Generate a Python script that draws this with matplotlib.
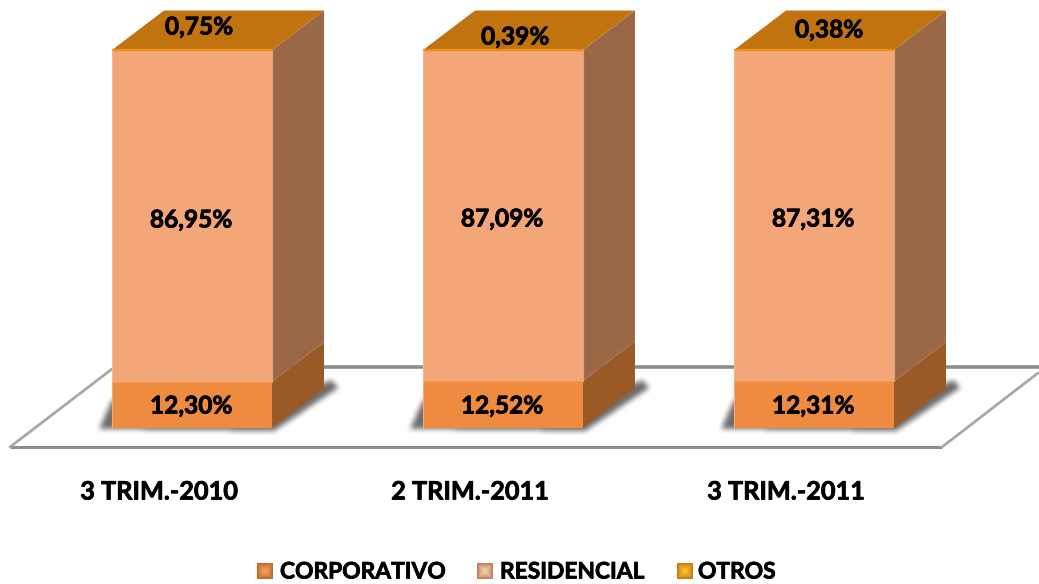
import numpy as np
import matplotlib
matplotlib.use("Agg")
import matplotlib.pyplot as plt
import matplotlib.patheffects as pe
from matplotlib.patches import Polygon
from matplotlib.path import Path
from matplotlib.colors import to_rgb

periods = ["3 TRIM.-2010", "2 TRIM.-2011", "3 TRIM.-2011"]
series_names = ["CORPORATIVO", "RESIDENCIAL", "OTROS"]
corporativo = [12.30, 12.52, 12.31]
residencial = [86.95, 87.09, 87.31]
otros = [0.75, 0.39, 0.38]

W, H = 1039, 584
FONT = "Lato"
FS = 17.6
HEAVY = [pe.withStroke(linewidth=0.55, foreground="black")]
fig = plt.figure(figsize=(W / 100, H / 100), dpi=100)
ax = fig.add_axes([0, 0, 1, 1])
ax.set_axis_off()

# Scales: bars spaced 311 px, 100 % = 378 px, baseline at y=428 px
PX_X, PX_Y, X0, Y0 = 311.0, 3.78, 192.0, 428.0
XLIM = (-X0 / PX_X, (W - X0) / PX_X)
YLIM = (-(H - Y0) / PX_Y, Y0 / PX_Y)


def px(x, y):
    return ((x - X0) / PX_X, (Y0 - y) / PX_Y)


def box_blur(a, r):
    k = np.ones(2 * r + 1) / (2 * r + 1)
    a = np.apply_along_axis(lambda v: np.convolve(v, k, mode="same"), 0, a)
    return np.apply_along_axis(lambda v: np.convolve(v, k, mode="same"), 1, a)


width = 160 / PX_X
dx = 52 / PX_X
dy = 39.5 / PX_Y

# floor
floor_col = "#8e8e8e"
xs, ys = zip(px(10, 447), px(942, 447))
ax.plot(xs, ys, color=floor_col, lw=2.2, zorder=1, solid_capstyle="butt")
xs, ys = zip(px(112, 367), px(1039, 367))
ax.plot(xs, ys, color=floor_col, lw=2.6, zorder=1, solid_capstyle="butt")
for a, b in [((10, 447), (112, 369)), ((942, 447), (1038, 373))]:
    xs, ys = zip(px(*a), px(*b))
    ax.plot(xs, ys, color="#a8a8a8", lw=2.0, zorder=1, solid_capstyle="round")

# soft bar shadows, rendered as one blurred alpha layer
gx, gy = np.meshgrid(np.arange(W) + 0.5, np.arange(H) + 0.5)
pts = np.column_stack([gx.ravel(), gy.ravel()])
mask = np.zeros((H, W))
for i in range(3):
    l = X0 + i * PX_X - 80
    r = l + 160
    path = Path([(l - 12, 427), (l - 12, 429), (r + 2, 431), (r + 66, 388),
                 (r + 60, 380), (r, 400), (l, 400)])
    mask += path.contains_points(pts).reshape(H, W).astype(float)
mask = box_blur(box_blur(mask, 3), 2)
rgba = np.zeros((H, W, 4))
rgba[..., :3] = 0.33
rgba[..., 3] = np.clip(mask * 0.85, 0, 1)
ax.imshow(rgba, extent=(*XLIM, *YLIM), aspect="auto", zorder=2, interpolation="nearest")

FRONT = ["#ef8b3f", "#f3a677", "#c0730f"]
SIDE = ["#9a5a28", "#9b6847"]
bx = np.arange(3, dtype=float) - 80 / PX_X

for i in range(3):
    l, r = bx[i], bx[i] + width
    v1 = corporativo[i]
    v2 = corporativo[i] + residencial[i]
    v3 = v2 + otros[i]
    # front faces
    ax.bar(i, v1, width=width, bottom=0, color=FRONT[0], zorder=4, lw=0)
    ax.bar(i, residencial[i], width=width, bottom=v1, color=FRONT[1], zorder=4, lw=0)
    ax.bar(i, otros[i], width=width, bottom=v2, color=FRONT[1], zorder=4, lw=0)
    # side faces
    ax.add_patch(Polygon([(r, 0), (r + dx, dy), (r + dx, v1 + dy), (r, v1)], color=SIDE[0], lw=0, zorder=3))
    ax.add_patch(Polygon([(r, v1), (r + dx, v1 + dy), (r + dx, v3 + dy), (r, v3)], color=SIDE[1], lw=0, zorder=3))
    # top face
    ax.add_patch(Polygon([(l, v3), (r, v3), (r + dx, v3 + dy), (l + dx, v3 + dy)], color=FRONT[2], lw=0, zorder=5))
    ax.plot([l, r], [v3, v3], color="#f08c12", lw=1.6, zorder=6, solid_capstyle="butt")
    # pale edges
    ax.plot([l, l], [0, v3], color="#f7c4a2", lw=0.8, alpha=0.6, zorder=6)
    ax.plot([r, r], [v1, v3], color="#f7b88f", lw=0.9, alpha=0.7, zorder=6)
    ax.plot([l, r], [v1, v1], color="#f3a677", lw=0.6, alpha=0.6, zorder=6)

# data labels
lab_kw = dict(ha="center", va="center", fontsize=FS, fontweight="bold",
              family=FONT, color="black", zorder=8, path_effects=HEAVY)
top_x = [199, 515, 829]   # px
top_y = [27, 37, 30]      # px
mid_y = [220, 219, 219]   # px
low_y = [406, 406, 406]   # px


def pct(v):
    return f"{v:.2f}%".replace(".", ",")


for i in range(3):
    cx = X0 + i * PX_X
    ax.text(*px(cx - 1, low_y[i]), pct(corporativo[i]), **lab_kw)
    ax.text(*px(cx - 1, mid_y[i]), pct(residencial[i]), **lab_kw)
    ax.text(*px(top_x[i], top_y[i]), pct(otros[i]), **lab_kw)

# category labels
cat_x = [159, 470, 786]
for cx, name in zip(cat_x, periods):
    ax.text(*px(cx, 492), name, ha="center", va="center", fontsize=18.2,
            fontweight="bold", family=FONT, path_effects=HEAVY)


# legend
def swatch(x0, c_edge, c_mid, y0=563, s=16):
    n = 32
    g = np.linspace(-1, 1, n)
    X, Y = np.meshgrid(g, g)
    d = (np.maximum(np.abs(X), np.abs(Y)) ** 1.5)[..., None]
    e, m = np.array(to_rgb(c_edge)), np.array(to_rgb(c_mid))
    img = m * (1 - d) + e * d
    a, b = px(x0, y0 + s), px(x0 + s, y0)
    ax.imshow(img, extent=(a[0], b[0], a[1], b[1]), aspect="auto",
              interpolation="bilinear", zorder=7)


lx = [(257, 280, "#b8682a", "#f2a056"), (477, 500, "#b97c56", "#f8cfa8"), (677, 698, "#c07a08", "#fdc030")]
for (sx, tx, c1, c2), name in zip(lx, series_names):
    swatch(sx, c1, c2)
    ax.text(*px(tx, 572), name, ha="left", va="center", fontsize=16.4,
            fontweight="bold", family=FONT, path_effects=HEAVY)

ax.set_xlim(*XLIM)
ax.set_ylim(*YLIM)
fig.savefig("out.png", dpi=100, facecolor="white")
